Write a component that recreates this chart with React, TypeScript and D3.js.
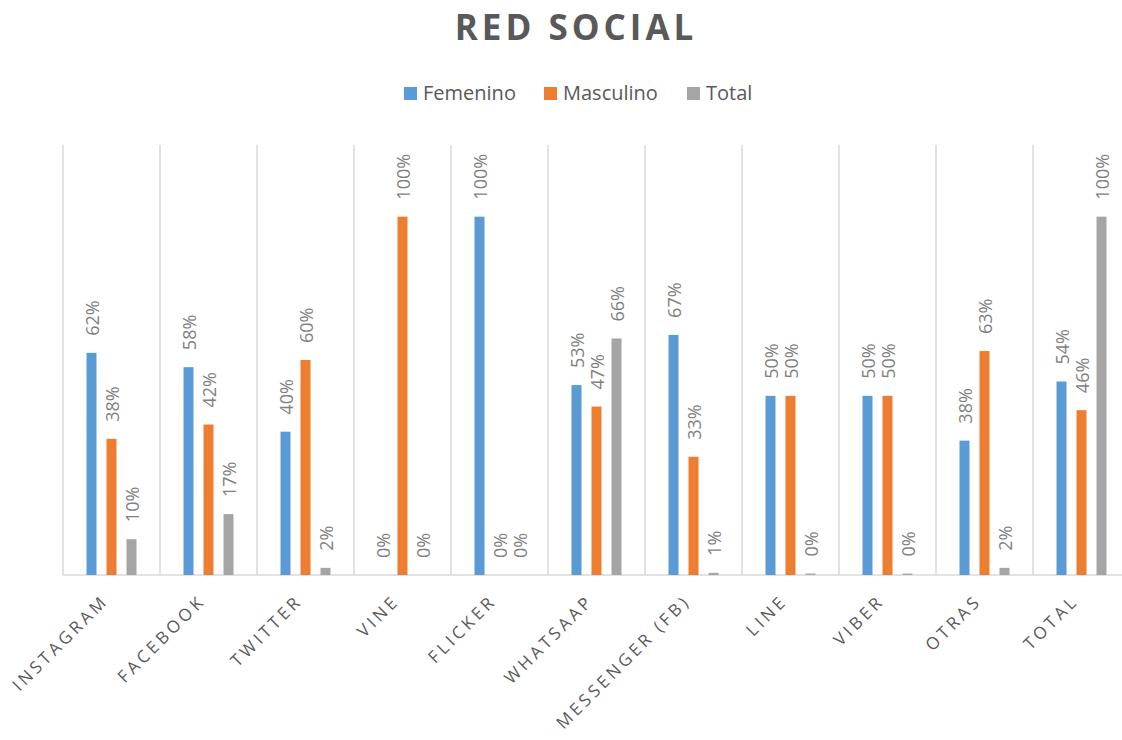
import React from "react";
import * as d3 from "d3";

const categories = [
  "INSTAGRAM",
  "FACEBOOK",
  "TWITTER",
  "VINE",
  "FLICKER",
  "WHATSAAP",
  "MESSENGER (FB)",
  "LINE",
  "VIBER",
  "OTRAS",
  "TOTAL",
];

const seriesNames = ["Femenino", "Masculino", "Total"];

const femenino = [0.62, 0.58, 0.4, 0, 1, 0.53, 0.67, 0.5, 0.5, 0.375, 0.54];
const masculino = [0.38, 0.42, 0.6, 1, 0, 0.47, 0.33, 0.5, 0.5, 0.625, 0.46];
const total = [0.1, 0.17, 0.02, 0, 0, 0.66, 0.006, 0.004, 0.004, 0.02, 1];

const seriesValues = [femenino, masculino, total];
const seriesColors = ["#5b9bd5", "#ed7d31", "#a5a5a5"];

const W = 1122;
const H = 740;
const plotLeft = 63;
const plotRight = 1130;
const plotTop = 145;
const plotBottom = 575;

export default function App() {
  const x = d3.scaleBand<string>().domain(categories).range([plotLeft, plotRight]).padding(0);
  const step = x.step();
  const xs = d3
    .scaleBand<string>()
    .domain(seriesNames)
    .range([step / 2 - 30, step / 2 + 30])
    .paddingInner(0.5)
    .paddingOuter(0.25);
  const y = d3.scaleLinear().domain([0, 1.2]).range([plotBottom, plotTop]);
  const fmt = d3.format(".0%");
  const font = "'Open Sans', 'Noto Sans', sans-serif";

  const legendItems = [
    { name: seriesNames[0], x: 404 },
    { name: seriesNames[1], x: 544 },
    { name: seriesNames[2], x: 687 },
  ];

  return (
    <svg width={W} height={H} style={{ position: "absolute", left: 0, top: 0, background: "#fff" }} fontFamily={font}>
      <rect width={W} height={H} fill="#fff" />
      <text
        x={576}
        y={40}
        textAnchor="middle"
        fontSize={35}
        fontWeight="bold"
        letterSpacing={4}
        fill="#595959"
      >
        RED SOCIAL
      </text>

      {legendItems.map((l, i) => (
        <g key={l.name}>
          <rect x={l.x} y={87} width={13} height={13} fill={seriesColors[i]} />
          <text x={l.x + 19} y={100} fontSize={20} fill="#595959">
            {l.name}
          </text>
        </g>
      ))}

      {/* category separators */}
      {categories.map((c) => (
        <line
          key={"sep" + c}
          x1={x(c)!}
          x2={x(c)!}
          y1={plotTop}
          y2={plotBottom}
          stroke="#d9d9d9"
          strokeWidth={1.5}
        />
      ))}
      <line x1={plotLeft} x2={W} y1={plotBottom} y2={plotBottom} stroke="#d9d9d9" strokeWidth={1.5} />

      {/* bars */}
      {categories.map((c, ci) =>
        seriesNames.map((s, si) => {
          const v = seriesValues[si][ci];
          const bx = x(c)! + xs(s)!;
          const top = y(v);
          return (
            <rect
              key={c + s}
              x={bx}
              y={top}
              width={xs.bandwidth()}
              height={plotBottom - top}
              fill={seriesColors[si]}
            />
          );
        })
      )}

      {/* value labels */}
      {categories.map((c, ci) =>
        seriesNames.map((s, si) => {
          const v = seriesValues[si][ci];
          const cx = x(c)! + xs(s)! + xs.bandwidth() / 2;
          const ty = y(v) - 17;
          return (
            <text
              key={"lbl" + c + s}
              transform={`translate(${cx},${ty}) rotate(-90)`}
              dominantBaseline="central"
              fontSize={18}
              fill="#7f7f7f"
            >
              {fmt(v)}
            </text>
          );
        })
      )}

      {/* category labels */}
      {categories.map((c) => {
        const cx = x(c)! + step / 2;
        return (
          <text
            key={"cat" + c}
            transform={`translate(${cx - 2},${plotBottom + 27}) rotate(-45)`}
            textAnchor="end"
            fontSize={17}
            letterSpacing={3.5}
            fill="#595959"
          >
            {c}
          </text>
        );
      })}
    </svg>
  );
}
